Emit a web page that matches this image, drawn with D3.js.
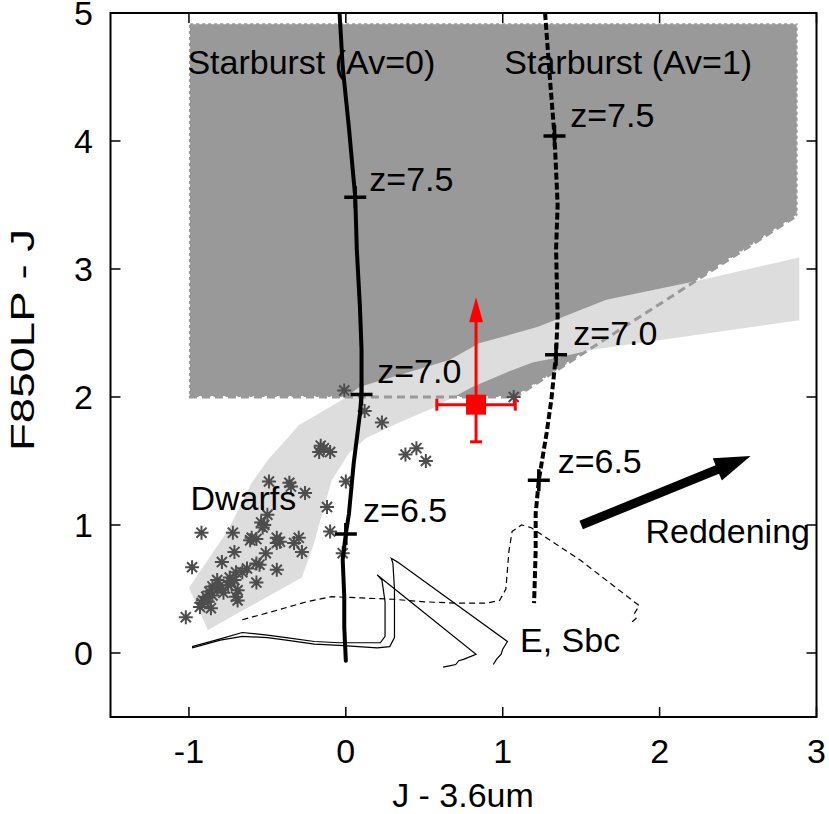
<!DOCTYPE html>
<html><head><meta charset="utf-8">
<script src="https://cdn.jsdelivr.net/npm/d3@7"></script>
<style>body{margin:0;background:#fff}svg{display:block}text{font-family:"Liberation Sans",Arial,Helvetica,sans-serif}</style>
</head><body>
<svg id="c" width="829" height="814"></svg>
<script>
// ---- data ----
const xTicks = [-1, 0, 1, 2, 3];
const yTicks = [0, 1, 2, 3, 4, 5];
const selectionRegion = [[-1,2],[-1,4.92],[2.88,4.92],[2.88,3.42],[1.08,2.0]];
const selectionEdge = [[-1,2],[1.08,2.0],[2.88,3.42]];
const dwarfBand = [[-1.0,0.51],[-0.75,0.96],[-0.60,1.33],[-0.49,1.52],[-0.40,1.64],[-0.30,1.78],[-0.02,1.98],[0.09,2.08],[0.66,2.29],[0.85,2.42],[1.23,2.55],[1.66,2.76],[2.25,2.91],[2.89,3.09],[2.89,2.60],[1.57,2.37],[1.36,2.31],[1.19,2.27],[1.02,2.19],[0.81,2.08],[0.55,1.91],[0.34,1.80],[0.13,1.68],[0.02,1.56],[-0.09,1.35],[-0.15,1.09],[-0.21,0.83],[-0.28,0.59],[-0.88,0.18]];
const starburstAv0 = [[-0.04,5.0],[-0.02,4.58],[0.02,4.1],[0.06,3.56],[0.07,3.15],[0.09,2.7],[0.10,2.37],[0.10,2.02],[0.09,1.87],[0.05,1.48],[0.02,1.09],[0.0,0.93],[-0.02,0.73],[-0.01,0.44],[-0.01,0.2],[0.0,-0.06]];
const starburstAv1 = [[1.27,5.0],[1.30,4.5],[1.33,4.04],[1.35,3.5],[1.34,3.15],[1.35,2.63],[1.34,2.33],[1.31,1.98],[1.28,1.72],[1.23,1.35],[1.21,1.09],[1.21,0.8],[1.20,0.39]];
const markersAv0 = [[0.06,3.56],[0.10,2.02],[0.0,0.93]];
const markersAv1 = [[1.33,4.04],[1.34,2.33],[1.23,1.35]];
const trackE = [[-0.98,0.05],[-0.8,0.11],[-0.66,0.16],[-0.5,0.14],[-0.38,0.12],[-0.2,0.09],[-0.04,0.08],[0.15,0.08],[0.22,0.08],[0.25,0.13],[0.25,0.4],[0.23,0.57],[0.20,0.61],[0.23,0.58],[0.83,-0.01],[0.75,-0.05],[0.72,-0.06],[0.70,-0.09],[0.66,-0.10],[0.62,-0.11]];
const trackSbc = [[-0.98,0.04],[-0.8,0.10],[-0.66,0.13],[-0.5,0.12],[-0.38,0.10],[-0.2,0.07],[-0.04,0.06],[0.2,0.04],[0.28,0.05],[0.31,0.12],[0.31,0.5],[0.30,0.70],[0.29,0.74],[0.33,0.71],[1.03,0.09],[1.0,0.03],[0.99,-0.01],[0.96,-0.05],[0.94,-0.09]];
const trackDashed = [[-0.66,0.26],[-0.45,0.33],[-0.25,0.40],[-0.09,0.44],[0.1,0.43],[0.3,0.42],[0.5,0.40],[0.7,0.39],[0.9,0.39],[0.98,0.41],[1.02,0.5],[1.04,0.8],[1.06,0.95],[1.12,1.0],[1.18,0.98],[1.5,0.72],[1.87,0.37],[1.84,0.31],[1.85,0.27],[1.82,0.24]];
const dwarfStars = [[-0.01,2.05],[0.12,1.89],[0.23,1.80],[-0.16,1.62],[-0.17,1.57],[-0.10,1.57],[-0.14,1.60],[0.38,1.55],[0.45,1.60],[0.51,1.50],[0.0,1.34],[-0.26,1.25],[-0.12,1.14],[-0.10,0.95],[-0.02,0.78],[1.07,2.0],[-0.49,1.34],[-0.36,1.33],[-0.35,1.30],[-0.50,1.08],[-0.54,1.02],[-0.52,1.0],[-0.53,0.98],[-0.92,0.94],[-0.72,0.94],[-0.61,0.88],[-0.60,0.90],[-0.57,0.89],[-0.44,0.90],[-0.44,0.86],[-0.42,0.87],[-0.33,0.86],[-0.30,0.90],[-0.28,0.79],[-0.51,0.78],[-0.71,0.79],[-0.79,0.71],[-0.98,0.67],[-0.57,0.70],[-0.55,0.69],[-0.63,0.66],[-0.66,0.63],[-0.70,0.63],[-0.44,0.65],[-0.57,0.55],[-0.74,0.59],[-0.73,0.55],[-0.75,0.53],[-0.71,0.57],[-0.69,0.49],[-0.70,0.44],[-0.69,0.41],[-0.82,0.57],[-0.85,0.52],[-0.87,0.48],[-0.89,0.44],[-0.91,0.41],[-0.92,0.39],[-0.88,0.40],[-0.85,0.45],[-0.82,0.50],[-1.02,0.28],[-0.93,0.36],[-0.80,0.53],[-0.78,0.47],[-0.86,0.35]];
const redPoint = {x:0.83, y:1.94, xlo:0.58, xhi:1.08, ylo:1.65, yhi:2.78};
const reddening = [[1.50,1.0],[2.58,1.54]];
const labels = [
  {t:"Starburst (Av=0)", x:-1.01, y:4.52},
  {t:"Starburst (Av=1)", x:1.01, y:4.52},
  {t:"z=7.5", x:0.15, y:3.61},
  {t:"z=7.5", x:1.43, y:4.11},
  {t:"z=7.0", x:0.20, y:2.11},
  {t:"z=7.0", x:1.45, y:2.41},
  {t:"z=6.5", x:0.11, y:1.02},
  {t:"z=6.5", x:1.35, y:1.41},
  {t:"Dwarfs", x:-0.99, y:1.12},
  {t:"Reddening", x:1.91, y:0.86},
  {t:"E, Sbc", x:1.11, y:0.008}
];

// ---- scales ----
const svg = d3.select("#c");
const x = d3.scaleLinear().domain([-1.5, 3]).range([110.5, 816.5]);
const y = d3.scaleLinear().domain([-0.5, 5]).range([717, 13]);
const line = d3.line().x(d=>x(d[0])).y(d=>y(d[1]));
const fs = 34;

const defs = svg.append("defs");
defs.append("clipPath").attr("id","clip").append("rect")
  .attr("x",x(-1.5)).attr("y",y(5)).attr("width",x(3)-x(-1.5)).attr("height",y(-0.5)-y(5));
const g = svg.append("g").attr("clip-path","url(#clip)");

// selection region
g.append("path").attr("d", line(selectionRegion)+"Z")
  .attr("fill","#999999").attr("stroke","#fff").attr("stroke-width",2).attr("stroke-dasharray","3,3");
// dwarf band
g.append("path").attr("d", line(dwarfBand)+"Z").attr("fill","#dddddd").attr("stroke","none");
// selection edge dashed
g.append("path").attr("d", line(selectionEdge)).attr("fill","none")
  .attr("stroke","#999999").attr("stroke-width",3).attr("stroke-dasharray","8,5");

// thin galaxy tracks
g.append("path").attr("d", line(trackE)).attr("fill","none").attr("stroke","#000").attr("stroke-width",1.2);
g.append("path").attr("d", line(trackSbc)).attr("fill","none").attr("stroke","#000").attr("stroke-width",1.2);
g.append("path").attr("d", line(trackDashed)).attr("fill","none").attr("stroke","#000").attr("stroke-width",1.2).attr("stroke-dasharray","6,4");

// dwarf stars
const sr = 7;
const st = g.append("g").attr("stroke","#4d4d4d").attr("stroke-width",2);
dwarfStars.forEach(d=>{
  const cx=x(d[0]), cy=y(d[1]);
  st.append("path").attr("d",
    `M${cx-sr},${cy}H${cx+sr}M${cx},${cy-sr}V${cy+sr}M${cx-sr*0.72},${cy-sr*0.72}L${cx+sr*0.72},${cy+sr*0.72}M${cx-sr*0.72},${cy+sr*0.72}L${cx+sr*0.72},${cy-sr*0.72}`);
});

// starburst tracks
g.append("path").attr("d", line(starburstAv0)).attr("fill","none").attr("stroke","#000").attr("stroke-width",4).attr("stroke-linecap","round");
g.append("path").attr("d", line(starburstAv1)).attr("fill","none").attr("stroke","#000").attr("stroke-width",4).attr("stroke-dasharray","7,3");
const mk = g.append("g").attr("stroke","#000").attr("stroke-width",3.5);
markersAv0.concat(markersAv1).forEach(d=>{
  const cx=x(d[0]), cy=y(d[1]);
  mk.append("path").attr("d",`M${cx-11},${cy}H${cx+11}M${cx},${cy-11}V${cy+11}`);
});

// red point
const red = "#ff0000";
const rp = g.append("g").attr("stroke",red).attr("stroke-width",3).attr("fill",red);
rp.append("line").attr("x1",x(redPoint.xlo)).attr("x2",x(redPoint.xhi)).attr("y1",y(redPoint.y)).attr("y2",y(redPoint.y));
rp.append("line").attr("x1",x(redPoint.xlo)).attr("x2",x(redPoint.xlo)).attr("y1",y(redPoint.y)-6).attr("y2",y(redPoint.y)+6);
rp.append("line").attr("x1",x(redPoint.xhi)).attr("x2",x(redPoint.xhi)).attr("y1",y(redPoint.y)-6).attr("y2",y(redPoint.y)+6);
rp.append("line").attr("x1",x(redPoint.x)).attr("x2",x(redPoint.x)).attr("y1",y(redPoint.ylo)).attr("y2",y(redPoint.yhi)+20);
rp.append("line").attr("x1",x(redPoint.x)-6).attr("x2",x(redPoint.x)+6).attr("y1",y(redPoint.ylo)).attr("y2",y(redPoint.ylo));
rp.append("path").attr("stroke","none").attr("d",
  `M${x(redPoint.x)},${y(redPoint.yhi)}L${x(redPoint.x)-7},${y(redPoint.yhi)+25}L${x(redPoint.x)+7},${y(redPoint.yhi)+25}Z`);
rp.append("rect").attr("stroke","none").attr("x",x(redPoint.x)-10).attr("y",y(redPoint.y)-10).attr("width",20).attr("height",20);

// reddening arrow
{
  const x0=x(reddening[0][0]), y0=y(reddening[0][1]), x1=x(reddening[1][0]), y1=y(reddening[1][1]);
  const ang=Math.atan2(y1-y0,x1-x0), L=36, W=12;
  const bx=x1-L*Math.cos(ang), by=y1-L*Math.sin(ang);
  g.append("line").attr("x1",x0).attr("y1",y0).attr("x2",bx+4*Math.cos(ang)).attr("y2",by+4*Math.sin(ang)).attr("stroke","#000").attr("stroke-width",9);
  g.append("path").attr("fill","#000").attr("d",
    `M${x1},${y1}L${bx-W*Math.sin(ang)},${by+W*Math.cos(ang)}L${bx+W*Math.sin(ang)},${by-W*Math.cos(ang)}Z`);
}

// labels
svg.append("g").selectAll("text").data(labels).join("text")
  .attr("x",d=>x(d.x)).attr("y",d=>y(d.y)).attr("font-size",fs).attr("fill","#000").text(d=>d.t);

// frame & ticks
const fr = svg.append("g").attr("stroke","#000").attr("fill","none");
fr.append("rect").attr("x",x(-1.5)).attr("y",y(5)).attr("width",x(3)-x(-1.5)).attr("height",y(-0.5)-y(5)).attr("stroke-width",2);
xTicks.forEach(t=>{
  fr.append("line").attr("x1",x(t)).attr("x2",x(t)).attr("y1",y(-0.5)).attr("y2",y(-0.5)-10).attr("stroke-width",1.5);
  fr.append("line").attr("x1",x(t)).attr("x2",x(t)).attr("y1",y(5)).attr("y2",y(5)+10).attr("stroke-width",1.5);
});
yTicks.forEach(t=>{
  fr.append("line").attr("x1",x(-1.5)).attr("x2",x(-1.5)+10).attr("y1",y(t)).attr("y2",y(t)).attr("stroke-width",1.5);
  fr.append("line").attr("x1",x(3)).attr("x2",x(3)-10).attr("y1",y(t)).attr("y2",y(t)).attr("stroke-width",1.5);
});
svg.append("g").selectAll("text").data(xTicks).join("text")
  .attr("x",d=>x(d)).attr("y",763).attr("text-anchor","middle").attr("font-size",fs).text(d=>d);
svg.append("g").selectAll("text").data(yTicks).join("text")
  .attr("x",93).attr("y",d=>y(d)+12).attr("text-anchor","end").attr("font-size",fs).text(d=>d);
svg.append("text").attr("x",463).attr("y",807).attr("text-anchor","middle").attr("font-size",fs).text("J - 3.6um");
svg.append("text").attr("transform","translate(34,340) rotate(-90)").attr("text-anchor","middle").attr("font-size",fs)
  .attr("textLength",222).attr("lengthAdjust","spacingAndGlyphs").text("F850LP - J");
</script>
</body></html>
